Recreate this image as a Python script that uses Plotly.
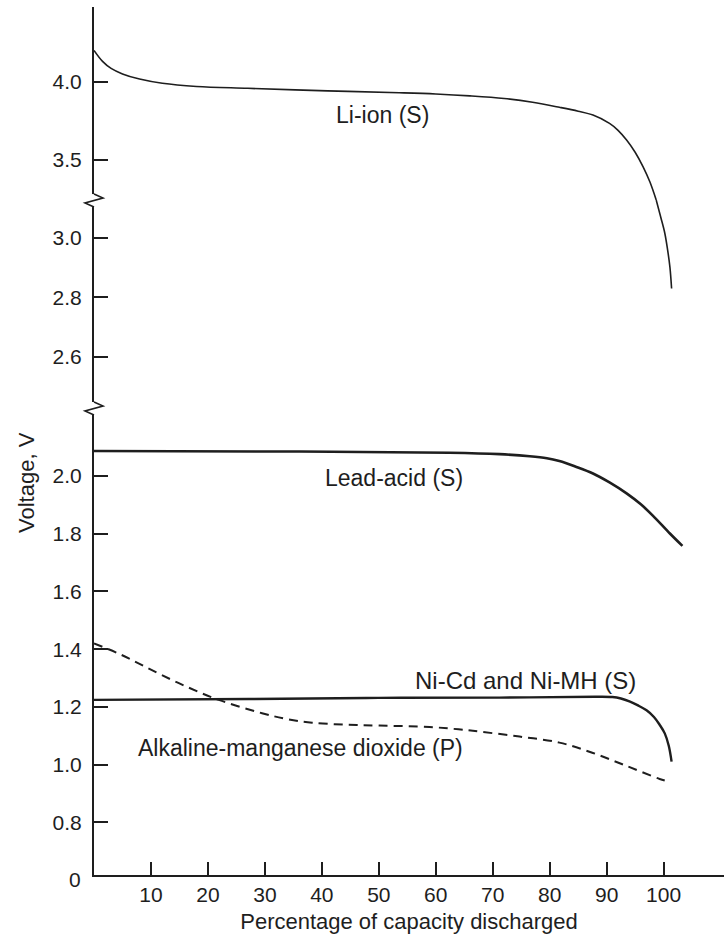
import plotly.graph_objects as go

# Discharge curves: cell voltage (V) vs. percentage of capacity discharged
li_ion_x = [0, 1.5, 3.0, 5.0, 8.0, 12.0, 18.0, 27.0, 41.0, 53.6, 60.0, 66.0, 72.0, 77.0,
            81.7, 85.0, 87.6, 90.5, 92.0, 93.5, 95.0, 96.4, 97.6, 98.7]
li_ion_v = [4.20, 4.13, 4.085, 4.05, 4.017, 3.99, 3.97, 3.958, 3.942, 3.93, 3.922, 3.91,
            3.893, 3.869, 3.837, 3.812, 3.787, 3.734, 3.69, 3.628, 3.55, 3.457, 3.36, 3.245]
li_ion_tail_x = [98.7, 99.5, 100.2, 100.7, 101.1, 101.4]
li_ion_tail_v = [3.128, 3.07, 3.017, 2.96, 2.903, 2.83]

lead_acid_x = [0, 36.0, 62.4, 71.2, 76.5, 79.5, 81.7, 84.5, 87.6, 90.5, 93.5, 96.0, 98.1, 101.1, 103.3]
lead_acid_v = [2.087, 2.085, 2.081, 2.076, 2.069, 2.062, 2.052, 2.033, 2.009, 1.978, 1.940, 1.902,
               1.863, 1.801, 1.758]

nicd_x = [0, 27.2, 50.0, 71.2, 88.0, 91.0, 92.5, 94.0, 95.5, 97.0, 98.3, 99.3, 100.2, 100.9, 101.4]
nicd_v = [1.224, 1.227, 1.231, 1.232, 1.235, 1.234, 1.229, 1.219, 1.205, 1.188, 1.165, 1.138,
          1.108, 1.065, 1.010]

alkaline_x = [0, 4.5, 9.0, 14.9, 21.9, 29.5, 34.0, 38.3, 44.2, 50.1, 58.9, 64.0, 67.7, 74.7,
              81.7, 87.6, 93.5, 99.3, 100.8]
alkaline_v = [1.42, 1.383, 1.339, 1.282, 1.224, 1.178, 1.157, 1.145, 1.138, 1.135, 1.130, 1.122,
              1.114, 1.097, 1.076, 1.040, 0.995, 0.950, 0.941]

x_ticks = [10, 20, 30, 40, 50, 60, 70, 80, 90, 100]
low_ticks = [0.8, 1.0, 1.2, 1.4, 1.6, 1.8, 2.0]
mid_ticks = [2.6, 2.8, 3.0]
top_ticks = [3.5, 4.0]

W, H = 724, 934
ML, MR, MT, MB = 94, 0, 7, 59
PW, PH = W - ML - MR, H - MT - MB

# broken voltage axis: three stacked segments
low_dom, mid_dom, top_dom = [0, 0.538], [0.538, 0.7776], [0.7776, 1.0]
low_rng, mid_rng, top_rng = [0.617, 2.236], [2.427, 3.128], [3.245, 4.477]

FONT = "Liberation Sans, Arial, Helvetica, sans-serif"
INK = "#1e1e1e"

fig = go.Figure()

def curve(x, y, axis, width, dash="solid"):
    fig.add_trace(go.Scatter(
        x=x, y=y, yaxis=axis, mode="lines",
        line=dict(color=INK, width=width, dash=dash, shape="spline", smoothing=1.0),
        showlegend=False, hoverinfo="skip"))

curve(li_ion_x, li_ion_v, "y3", 1.6)
curve(li_ion_tail_x, li_ion_tail_v, "y2", 1.6)
curve(lead_acid_x, lead_acid_v, "y", 2.6)
curve(nicd_x, nicd_v, "y", 2.4)
curve(alkaline_x, alkaline_v, "y", 2.0, dash="9px,6px")

yax = dict(showgrid=False, zeroline=False, showline=True, linecolor=INK, linewidth=2,
           ticks="inside", ticklen=14, tickwidth=1.6, tickcolor=INK,
           tickfont=dict(family=FONT, size=21, color=INK), tickformat=".1f",
           ticklabelstandoff=6, anchor="x", fixedrange=True)

fig.update_layout(
    width=W, height=H,
    margin=dict(l=ML, r=MR, t=MT, b=MB),
    paper_bgcolor="white", plot_bgcolor="white",
    font=dict(family=FONT, color=INK),
    xaxis=dict(range=[0, 110.6], showgrid=False, zeroline=False, showline=True,
               linecolor=INK, linewidth=2, ticks="inside", ticklen=13, tickwidth=1.6,
               tickcolor=INK, tickvals=x_ticks, ticklabelstandoff=0,
               tickfont=dict(family=FONT, size=21, color=INK),
               title=dict(text="Percentage of capacity discharged",
                          font=dict(family=FONT, size=22, color=INK), standoff=12)),
    yaxis=dict(yax, domain=low_dom, range=low_rng, tickvals=low_ticks),
    yaxis2=dict(yax, domain=mid_dom, range=mid_rng, tickvals=mid_ticks),
    yaxis3=dict(yax, domain=top_dom, range=top_rng, tickvals=top_ticks),
)

# zig-zag break marks on the voltage axis
dx, dy = 1.0 / PW, 1.0 / PH
for b in (top_dom[0], mid_dom[0]):
    fig.add_shape(type="rect", xref="paper", yref="paper",
                  x0=-4 * dx, x1=4 * dx, y0=b - 7 * dy, y1=b + 6 * dy,
                  fillcolor="white", line=dict(width=0), layer="above")
    fig.add_shape(type="path", xref="paper", yref="paper",
                  path=f"M 0 {b + 6 * dy} L {9 * dx} {b + 2 * dy} L {-9 * dx} {b - 3 * dy} L 0 {b - 7 * dy}",
                  line=dict(color=INK, width=1.6), layer="above")

ann_font = dict(family=FONT, size=23, color=INK)
fig.add_annotation(x=50.6, y=3.787, xref="x", yref="y3", text="Li-ion (S)",
                   showarrow=False, font=ann_font)
fig.add_annotation(x=52.7, y=1.993, xref="x", yref="y", text="Lead-acid (S)",
                   showarrow=False, font=ann_font)
fig.add_annotation(x=75.8, y=1.293, xref="x", yref="y", text="Ni-Cd and Ni-MH (S)",
                   showarrow=False, font=dict(family=FONT, size=24, color=INK))
fig.add_annotation(x=36.2, y=1.0575, xref="x", yref="y", text="Alkaline-manganese dioxide (P)",
                   showarrow=False, font=ann_font)

# origin label and voltage axis title
fig.add_annotation(x=0, y=0, xref="paper", yref="paper", text="0", showarrow=False,
                   xanchor="right", yanchor="middle", xshift=-11, yshift=-4,
                   font=dict(family=FONT, size=21, color=INK))
fig.add_annotation(x=-67 * dx, y=(875 - 483) * dy, xref="paper", yref="paper",
                   text="Voltage, V", textangle=-90, showarrow=False,
                   xanchor="center", yanchor="middle",
                   font=dict(family=FONT, size=22, color=INK))

fig.write_html("out.html")
